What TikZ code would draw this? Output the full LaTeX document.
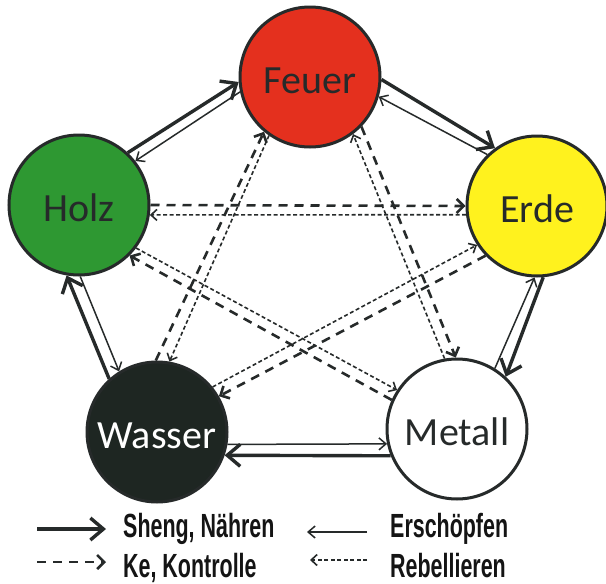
\documentclass[tikz,border=0pt]{standalone}
\usepackage{fontspec}
\usetikzlibrary{arrows.meta}
\newfontfamily\elemfont{Carlito}
\newfontfamily\legfont{Liberation Sans}[FakeStretch=0.64]
\definecolor{ink}{RGB}{38,42,42}
\definecolor{feuerc}{RGB}{228,48,30}
\definecolor{holzc}{RGB}{46,152,50}
\definecolor{erdec}{RGB}{255,242,30}
\definecolor{wasserc}{RGB}{30,38,34}
\begin{document}
\begin{tikzpicture}[x=1pt,y=-1pt,
  elem/.style={circle, draw=ink, line width=3pt, minimum size=140pt, inner sep=0pt,
    text height=33pt, text depth=0pt,
    font=\elemfont\fontsize{40}{40}\selectfont, text=ink},
  sheng/.style={draw=ink, line width=3.4pt, -{Straight Barb[length=13pt,width=22pt]}},
  erschoepf/.style={draw=ink, line width=1.5pt, -{Straight Barb[length=7pt,width=12pt]}},
  ke/.style={draw=ink, line width=2.6pt, dash pattern=on 9pt off 7pt, -{Straight Barb[length=7pt,width=14pt]}},
  rebell/.style={draw=ink, line width=1.6pt, dash pattern=on 4pt off 2.5pt, -{Straight Barb[length=6pt,width=11pt]}},
  legtext/.style={anchor=base west, inner sep=0pt, text={rgb,255:red,20;green,20;blue,20},
    font=\legfont\bfseries\fontsize{33.5}{34}\selectfont}
]
\fill[white] (0,0) rectangle (606,584);
\useasboundingbox (0,0) rectangle (606,584);

% elements
\node[elem, fill=feuerc] (F) at (310,77) {Feuer};
\node[elem, fill=holzc] (H) at (79,205) {Holz};
\node[elem, fill=erdec] (E) at (537,206) {Erde};
\node[elem, fill=wasserc, text=white] (W) at (157,432) {Wasser};
\node[elem, fill=white] (M) at (457,429) {Metall};

% Sheng (nourishing)
\draw[sheng] (H.47) -- (F.184);
\draw[sheng] (F.358) -- (E.126);
\draw[sheng] (E.275) -- (M.47);
\draw[sheng] (M.202) -- (W.341);
\draw[sheng] (W.132) -- (H.260);

% Erschoepfen
\draw[erschoepf] (F.192) -- (H.38);
\draw[erschoepf] (E.134) -- (F.344);
\draw[erschoepf] (M.58) -- (E.268);
\draw[erschoepf] (W.350) -- (M.192);
\draw[erschoepf] (H.271) -- (W.122);

% Ke (control)
\draw[ke] (F.316) -- (M.91);
\draw[ke] (M.156) -- (H.315);
\draw[ke] (H.0) -- (E.180);
\draw[ke] (E.224) -- (W.30);
\draw[ke] (W.91) -- (F.230);

% Rebellieren
\draw[rebell] (M.100) -- (F.307);
\draw[rebell] (H.323) -- (M.147);
\draw[rebell] (E.187) -- (H.352);
\draw[rebell] (W.39) -- (E.213);
\draw[rebell] (F.235) -- (W.80);

% legend
\coordinate (s1) at (37,529); \coordinate (s2) at (106,529);
\coordinate (e1) at (367,532); \coordinate (e2) at (307,532);
\coordinate (k1) at (37,562); \coordinate (k2) at (106,562);
\coordinate (r1) at (367,560); \coordinate (r2) at (310,560);
\draw[sheng] (s1) -- (s2);
\draw[erschoepf] (e1) -- (e2);
\draw[ke] (k1) -- (k2);
\draw[rebell] (r1) -- (r2);
\node[legtext] (ls) at (123,537) {Sheng, Nähren};
\node[legtext] (le) at (390,537) {Erschöpfen};
\node[legtext] (lk) at (123,577) {Ke, Kontrolle};
\node[legtext] (lr) at (390,577) {Rebellieren};
\end{tikzpicture}
\end{document}
